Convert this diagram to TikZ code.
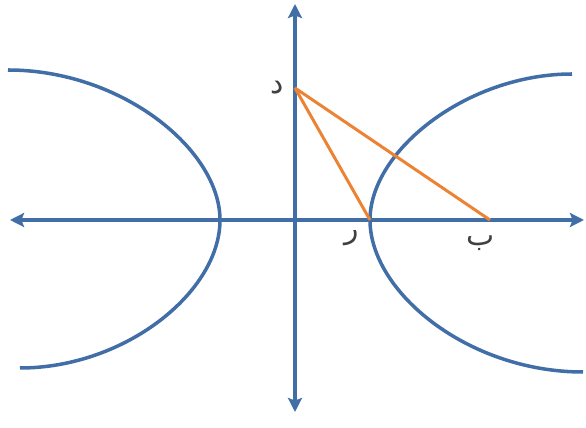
\documentclass[tikz,border=0pt]{standalone}
\usepackage{fontspec}
\usepackage{tikz}
\usetikzlibrary{arrows.meta, positioning, calc}
\newfontfamily\arabicfont[Script=Arabic]{DejaVu Sans}
\TeXXeTstate=1
\definecolor{cAxis}{RGB}{66,110,168}
\definecolor{cOrange}{RGB}{236,130,52}
\tikzset{
	axis/.style   ={cAxis, line width=2.2pt, -{Stealth[length=8pt, width=8pt, inset=1.5pt]}},
	branch/.style ={cAxis, line width=2pt},
	side/.style   ={cOrange, line width=1.7pt},
	lbl/.style    ={font=\arabicfont\fontsize{17}{17}\selectfont, text=black!75, inner sep=1pt},
}
\begin{document}
\begin{tikzpicture}[x=0.02cm, y=-0.02cm]
			\useasboundingbox (0,0) rectangle (586,428);
			\coordinate (O) at (295,220);
			\coordinate (xl) at (10,220);
			\coordinate (xr) at (584,220);
			\coordinate (yt) at (295,4);
			\coordinate (yb) at (295,412);
			\coordinate (V) at (370,220);
			\coordinate (Vl) at (220,220);
			\coordinate (F) at (490,220);
			\coordinate (T) at (295,88);
			% hyperbola branches
			\draw[branch] (8,70) .. controls (122,70) and (220,150) .. (Vl) .. controls (220,292) and (125,368) .. (20,368);
			\draw[branch] (572,74) .. controls (468,74) and (370,150) .. (V) .. controls (370,292) and (468,372) .. (583,372);
			% axes
			\draw[axis] (O) -- (xl);
			\draw[axis] (O) -- (xr);
			\draw[axis] (O) -- (yt);
			\draw[axis] (O) -- (yb);
			\draw[side] (T) -- (V);
			\draw[side] (T) -- (F);
			\node[lbl, left=5pt of T] (tlbl) {\beginR د\endR};
			\node[lbl, below left=5pt and 5pt of V] (vlbl) {\beginR ر\endR};
			\node[lbl, below left=8pt and -4pt of F] (flbl) {\beginR ب\endR};
		\end{tikzpicture}
\end{document}
